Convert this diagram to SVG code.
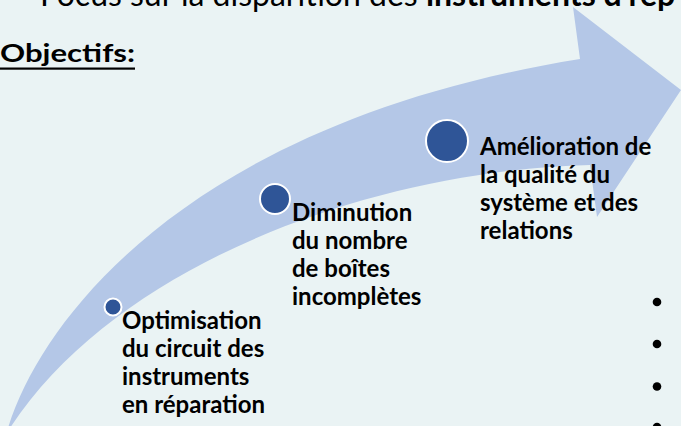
<svg xmlns="http://www.w3.org/2000/svg" width="681" height="426" viewBox="0 0 681 426">
<style>
.bg{fill:#eaf3f4}
.arrow{fill:#b4c7e7}
.dot{fill:#2f5597;stroke:#ffffff;stroke-width:2}
.lbl{font-family:Lato,"Open Sans","Liberation Sans",sans-serif;font-weight:bold;font-size:24px;fill:#000000}
.title{font-family:Lato,"Open Sans","Liberation Sans",sans-serif;font-size:32px;fill:#000000}
.bul{fill:#000000}
</style>
<rect class="bg" x="0" y="0" width="681" height="426"/>
<text class="title" x="40" y="5.5">Focus sur la disparition des <tspan font-weight="bold">instruments d'rép</tspan></text>
<g id="heading">
<text class="lbl" x="0" y="62" font-size="32px" textLength="135" lengthAdjust="spacingAndGlyphs">Objectifs:</text>
<rect x="0" y="67.5" width="135" height="2.2" fill="#000000"/>
</g>
<g id="arrow">
<path class="arrow" d="M8,428 C45,310 200,120 580,59 L573,7 L681,90 L597,217 L590,165 C380,170 120,260 10,428 Z"/>
</g>
<g id="connectors"></g>
<g id="step1">
<circle class="dot" cx="113" cy="307" r="8.5"/>
<text class="lbl" x="122" y="329">Optimisation</text>
<text class="lbl" x="122" y="357">du circuit des</text>
<text class="lbl" x="122" y="385">instruments</text>
<text class="lbl" x="122" y="413">en réparation</text>
</g>
<g id="step2">
<circle class="dot" cx="275" cy="199" r="15"/>
<text class="lbl" x="292" y="221">Diminution</text>
<text class="lbl" x="292" y="249">du nombre</text>
<text class="lbl" x="292" y="277">de boîtes</text>
<text class="lbl" x="292" y="305">incomplètes</text>
</g>
<g id="step3">
<circle class="dot" cx="447" cy="141" r="21"/>
<text class="lbl" x="480" y="155">Amélioration de</text>
<text class="lbl" x="480" y="183">la qualité du</text>
<text class="lbl" x="480" y="211">système et des</text>
<text class="lbl" x="480" y="239">relations</text>
</g>
<g id="bullets">
<circle class="bul" cx="657" cy="302" r="4.3"/>
<circle class="bul" cx="657" cy="344" r="4.3"/>
<circle class="bul" cx="657" cy="386.5" r="4.3"/>
<circle class="bul" cx="657" cy="427" r="4.3"/>
</g>
</svg>
